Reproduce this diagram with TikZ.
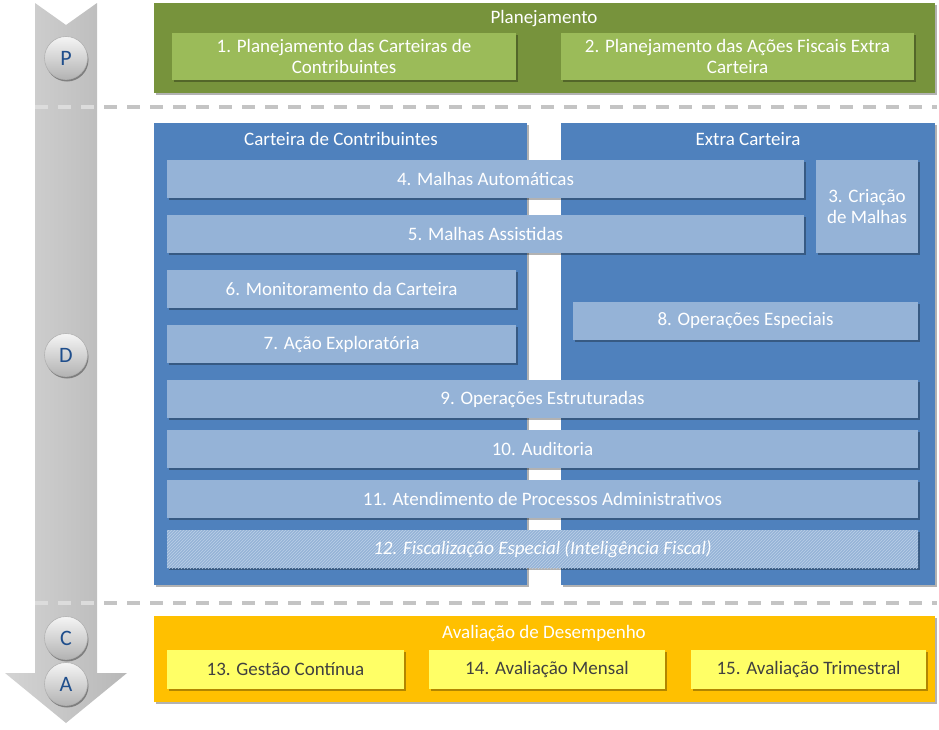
\documentclass[tikz,border=0pt]{standalone}
\usepackage{fontspec}
\setmainfont{Carlito}
\usetikzlibrary{shadows,patterns}
\definecolor{grnout}{HTML}{77933C}
\definecolor{grnin}{HTML}{9BBB59}
\definecolor{bluout}{HTML}{4F81BD}
\definecolor{bluin}{HTML}{95B3D7}
\definecolor{yelout}{HTML}{FFC000}
\definecolor{yelin}{HTML}{FFFF66}
\definecolor{yeltxt}{HTML}{404040}
\definecolor{hatchc}{HTML}{BCD0E8}
\definecolor{letterc}{HTML}{1F4E8C}
\definecolor{dashc}{HTML}{C4C4C4}
\definecolor{dashband}{HTML}{DCDCDC}
\begin{document}
\begin{tikzpicture}[x=1pt,y=-1pt,
  shadowed/.style={drop shadow={shadow xshift=1.5pt,shadow yshift=-2pt,opacity=0.3,fill=black}},
  panel/.style={shadowed,draw=none,inner sep=0pt,rectangle},
  txt/.style={font=\fontsize{19}{21}\selectfont,text=white,align=center},
  lbox/.style={panel,txt,fill=bluin},
  gbox/.style={panel,txt,fill=grnin},
  ybox/.style={panel,txt,fill=yelin,text=yeltxt},
  ttl/.style={txt,inner sep=0pt},
  btn/.style={circle,minimum size=43pt,inner sep=0pt,top color=white!96!black,bottom color=black!30,draw=black!30,line width=0.6pt,
    drop shadow={shadow xshift=1pt,shadow yshift=-2pt,opacity=0.35,fill=black},text=letterc,font=\fontsize{22}{22}\selectfont},
  dashline/.style={draw=dashc,line width=3.5pt,dash pattern=on 13pt off 10pt}]
\useasboundingbox (0,0) rectangle (939,729);
% left arrow
\path[left color=black!17,right color=black!28] (35,3) -- (66,25) -- (97,3) -- (97,673) -- (127,673) -- (66,723) -- (5,673) -- (35,673) -- cycle;
% dashed separators
\coordinate (d1a) at (35,107); \coordinate (d1b) at (937,107);
\coordinate (d2a) at (35,603); \coordinate (d2b) at (937,603);
\draw[dashline] (d1a) -- (d1b);
\draw[dashline] (d2a) -- (d2b);
\begin{scope}
\clip (35,0) rectangle (97,729);
\draw[dashline,draw=dashband] (d1a) -- (d1b);
\draw[dashline,draw=dashband] (d2a) -- (d2b);
\end{scope}
% buttons
\node[btn] (cP) at (66,58) {P};
\node[btn] (cD) at (66,355) {D};
\node[btn] (cC) at (66,638) {C};
\node[btn] (cA) at (66,684) {A};
% planejamento
\node[panel,fill=grnout,minimum width=781pt,minimum height=90pt] (plan) at (544.5,48) {};
\node[ttl] (planT) at (544,19) {Planejamento};
\node[gbox,minimum width=344pt,minimum height=47pt] (b1) at (344,56.5) {1. Planejamento das Carteiras de\\Contribuintes};
\node[gbox,minimum width=353pt,minimum height=47pt] (b2) at (737.5,56.5) {2. Planejamento das Ações Fiscais Extra\\Carteira};
% panels
\node[panel,fill=bluout,minimum width=373pt,minimum height=462pt] (pl) at (340.5,354) {};
\node[panel,fill=bluout,minimum width=374pt,minimum height=462pt] (pr) at (748,354) {};
\node[ttl] (plT) at (341,139) {Carteira de Contribuintes};
\node[ttl] (prT) at (748,139) {Extra Carteira};
\node[lbox,minimum width=637pt,minimum height=38pt] (b4) at (485.5,179) {4. Malhas Automáticas};
\node[lbox,minimum width=637pt,minimum height=38pt] (b5) at (485.5,234) {5. Malhas Assistidas};
\node[lbox,minimum width=102pt,minimum height=93pt] (b3) at (867,206.5) {3. Criação\\de Malhas};
\node[lbox,minimum width=349pt,minimum height=38pt] (b6) at (341.5,289) {6. Monitoramento da Carteira};
\node[lbox,minimum width=349pt,minimum height=38pt] (b7) at (341.5,344) {7. Ação Exploratória};
\node[lbox,minimum width=345pt,minimum height=38pt] (b8) at (745.5,321) {8. Operações Especiais};
\node[lbox,minimum width=751pt,minimum height=38pt] (b9) at (542.5,399) {9. Operações Estruturadas};
\node[lbox,minimum width=751pt,minimum height=38pt] (b10) at (542.5,449) {10. Auditoria};
\node[lbox,minimum width=751pt,minimum height=38pt] (b11) at (542.5,499) {11. Atendimento de Processos Administrativos};
\node[lbox,minimum width=751pt,minimum height=38pt,postaction={pattern=north east lines,pattern color=hatchc}] (b12) at (542.5,549) {};
\node[ttl,font=\fontsize{19}{21}\selectfont\itshape] (b12T) at (b12.center) {12. Fiscalização Especial (Inteligência Fiscal)};
% avaliacao
\node[panel,fill=yelout,minimum width=781pt,minimum height=86pt] (aval) at (544.5,659) {};
\node[ttl] (avalT) at (544,633) {Avaliação de Desempenho};
\node[ybox,minimum width=237pt,minimum height=39pt] (b13) at (285.5,669.5) {13. Gestão Contínua};
\node[ybox,minimum width=236pt,minimum height=39pt] (b14) at (547,669.5) {14. Avaliação Mensal};
\node[ybox,minimum width=235pt,minimum height=39pt] (b15) at (808.5,669.5) {15. Avaliação Trimestral};
\end{tikzpicture}
\end{document}
